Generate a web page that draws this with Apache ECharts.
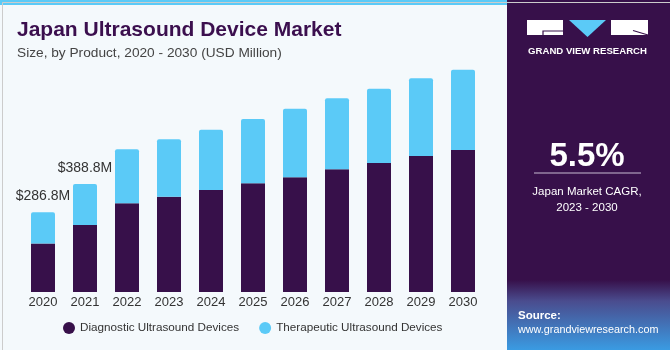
<!DOCTYPE html>
<html>
<head>
<meta charset="utf-8">
<script src="https://cdn.jsdelivr.net/npm/echarts@6/dist/echarts.min.js"></script>
<style>
  html, body { margin: 0; padding: 0; background: #f4f9fc; }
  #chart { width: 670px; height: 350px; }
</style>
</head>
<body>
<div id="chart"></div>
<script>
var years = ['2020', '2021', '2022', '2023', '2024', '2025', '2026', '2027', '2028', '2029', '2030'];
var diagnostic = [175.0, 241.2, 319.3, 343.1, 367.2, 391.3, 412.9, 441.7, 464.4, 489.6, 511.2];
var therapeutic = [111.8, 147.6, 194.4, 206.6, 217.1, 231.5, 247.0, 255.6, 267.5, 279.7, 289.1];
var totalLabels = ['$286.8M', '$388.8M'];

var purple = '#37104a';
var skyBlue = '#5bcaf7';
var font = 'Liberation Sans';

var option = {
    backgroundColor: '#f4f9fc',
    textStyle: { fontFamily: font },
    title: {
        text: 'Japan Ultrasound Device Market',
        subtext: 'Size, by Product, 2020 - 2030 (USD Million)',
        left: 12,
        top: 15,
        itemGap: 5,
        textStyle: { fontFamily: font, fontSize: 21, fontWeight: 'bold', color: '#3b0f4e' },
        subtextStyle: { fontFamily: font, fontSize: 13.7, color: '#444444' }
    },
    legend: {
        data: ['Diagnostic Ultrasound Devices', 'Therapeutic Ultrasound Devices'],
        icon: 'circle',
        itemWidth: 12,
        itemHeight: 12,
        itemGap: 20,
        left: 58,
        top: 317,
        textStyle: { fontFamily: font, fontSize: 11.7, color: '#333333' }
    },
    grid: { left: 22, right: 186, top: 40, bottom: 58 },
    xAxis: {
        type: 'category',
        data: years,
        axisLine: { show: false },
        axisTick: { show: false },
        axisLabel: { color: '#333333', fontSize: 13, margin: 4, fontFamily: font }
    },
    yAxis: {
        type: 'value',
        min: 0,
        max: 907,
        show: false,
        splitLine: { show: false }
    },
    series: [
        {
            name: 'Diagnostic Ultrasound Devices',
            type: 'bar',
            stack: 'total',
            barWidth: 24,
            itemStyle: { color: purple },
            data: diagnostic
        },
        {
            name: 'Therapeutic Ultrasound Devices',
            type: 'bar',
            stack: 'total',
            barWidth: 24,
            itemStyle: { color: skyBlue, borderRadius: [2, 2, 0, 0] },
            label: {
                show: true,
                position: 'top',
                distance: 9,
                fontSize: 14,
                color: '#333333',
                fontFamily: font,
                formatter: function (p) {
                    return totalLabels[p.dataIndex] || '';
                }
            },
            data: therapeutic
        }
    ],
    graphic: [
        { type: 'rect', left: 0, top: 0, shape: { width: 507, height: 5 }, style: { fill: skyBlue } },
        { type: 'rect', left: 507, top: 0, shape: { width: 163, height: 350 }, style: { fill: purple } },
        {
            type: 'rect', left: 507, top: 280, shape: { width: 163, height: 70 },
            style: {
                fill: new echarts.graphic.LinearGradient(0, 0, 0, 1, [
                    { offset: 0, color: '#37104a' },
                    { offset: 0.3, color: '#4a4c8e' },
                    { offset: 1, color: '#3a9be2' }
                ])
            }
        },
        // logo
        { type: 'rect', left: 527, top: 20, shape: { width: 36, height: 15 }, style: { fill: '#ffffff' } },
        { type: 'polyline', shape: { points: [[543, 35], [543, 31], [563, 31]] }, style: { stroke: purple, lineWidth: 1.2, fill: null } },
        { type: 'polygon', shape: { points: [[569, 20], [606, 20], [587.5, 37]] }, style: { fill: skyBlue } },
        { type: 'rect', left: 611, top: 20, shape: { width: 37, height: 15 }, style: { fill: '#ffffff' } },
        { type: 'line', shape: { x1: 633, y1: 30.5, x2: 648, y2: 35 }, style: { stroke: purple, lineWidth: 1.2 } },
        {
            type: 'text', x: 587.5, y: 51,
            style: { text: 'GRAND VIEW RESEARCH', fill: '#ffffff', font: 'bold 9.6px "Liberation Sans"', align: 'center', verticalAlign: 'middle' }
        },
        // CAGR
        {
            type: 'text', x: 587, y: 157,
            style: { text: '5.5%', fill: '#ffffff', font: 'bold 33px "Liberation Sans"', align: 'center', verticalAlign: 'middle' }
        },
        { type: 'line', shape: { x1: 534, y1: 173, x2: 641, y2: 173 }, style: { stroke: '#c9bcd2', lineWidth: 1 } },
        {
            type: 'text', x: 587, y: 192,
            style: { text: 'Japan Market CAGR,', fill: '#ffffff', font: '11.5px "Liberation Sans"', align: 'center', verticalAlign: 'middle' }
        },
        {
            type: 'text', x: 587, y: 208,
            style: { text: '2023 - 2030', fill: '#ffffff', font: '11.5px "Liberation Sans"', align: 'center', verticalAlign: 'middle' }
        },
        // source
        {
            type: 'text', x: 518, y: 316,
            style: { text: 'Source:', fill: '#ffffff', font: 'bold 11.5px "Liberation Sans"', verticalAlign: 'middle' }
        },
        {
            type: 'text', x: 518, y: 330,
            style: { text: 'www.grandviewresearch.com', fill: '#ffffff', font: '10.8px "Liberation Sans"', verticalAlign: 'middle' }
        },
        // frame
        { type: 'rect', left: 0, top: 0, shape: { width: 669, height: 348 }, style: { fill: null, stroke: '#cccccc', lineWidth: 1 }, silent: true }
    ]
};

var chart = echarts.init(document.getElementById('chart'));
chart.setOption(option);
</script>
</body>
</html>
